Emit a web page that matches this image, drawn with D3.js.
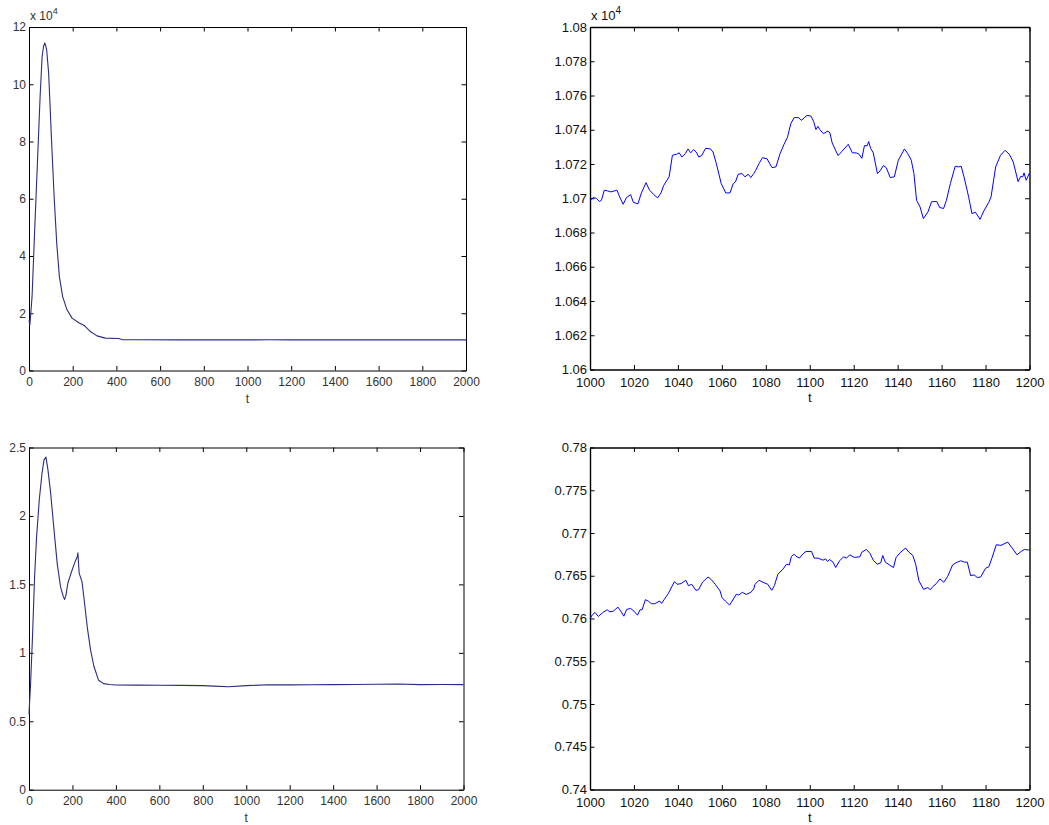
<!DOCTYPE html>
<html>
<head>
<meta charset="utf-8">
<script src="https://d3js.org/d3.v7.min.js"></script>
<style>
body { margin: 0; background: #fff; }
svg { display: block; }
text { font-family: "Liberation Sans", Arial, sans-serif; }
</style>
</head>
<body>
<svg id="chart" width="1049" height="825"></svg>
<script>
// top left: whole run, values in units of 1e4
const tlT = [0, 4, 14, 26, 38.5, 50.8, 60, 66, 72, 76, 81, 90, 102.5, 115, 127, 139, 154, 174, 197, 228, 255, 281, 311, 349, 410, 425, 500, 700, 1000, 1100, 1200, 1500, 1800, 2000];
const tlV = [1.75, 1.59, 2.58, 4.9, 7.24, 9.56, 10.96, 11.3, 11.44, 11.36, 11.19, 10.38, 8.16, 6.07, 4.44, 3.28, 2.58, 2.12, 1.83, 1.67, 1.56, 1.36, 1.21, 1.13, 1.12, 1.08, 1.072, 1.070, 1.070, 1.074, 1.071, 1.070, 1.070, 1.071];

// top right: zoom 1000..1200, units of 1e4
const trT = [1000, 1001.5, 1002.8, 1004.3, 1005.2, 1006.5, 1008, 1009.5, 1012.3, 1013.5, 1015.1, 1016.6, 1018.5, 1019.7, 1021.8, 1023.4, 1025.5, 1027.1, 1028.9, 1030.8,
  1032.3, 1033.5, 1036, 1037.5, 1039.4, 1040.6, 1041.8, 1043.4, 1044.6, 1045.8, 1047.1, 1048.3, 1049.5, 1050.8, 1052.6, 1054.8, 1056, 1057.5, 1059.7, 1061.8,
  1063.7, 1065.2, 1066.2, 1067.4, 1069.2, 1070.5, 1072, 1073.2, 1074.5, 1075.4, 1076.9, 1078.5, 1080.6, 1082.8, 1084.6, 1086.5, 1088.3, 1089.8, 1091.4, 1092.9,
  1094.8, 1096.3, 1097.8, 1098.8, 1100.6, 1101.8, 1102.8, 1103.7, 1104.6, 1106.2, 1108.3, 1109.2, 1110.2, 1112.9, 1114.8, 1117.5, 1119.4, 1121.2, 1122.5, 1123.7,
  1124.9, 1126.2, 1126.8, 1127.7, 1128.9, 1130.8, 1132, 1133.5, 1134.8, 1136.6, 1138.5, 1140.3, 1143.1, 1144.6, 1146.2, 1147.4, 1148.6, 1150.2, 1151.7, 1153.8,
  1155.4, 1156.6, 1157.8, 1159.1, 1160.9, 1162.2, 1164, 1166.2, 1167.7, 1168.9, 1170.2, 1172.3, 1173.8, 1175.4, 1177.5, 1179.4, 1181.5, 1182.5, 1184.6, 1186.8,
  1188.9, 1190.8, 1192.6, 1194.8, 1196, 1196.9, 1197.5, 1198.5, 1200];
const trV = [1.06988, 1.07004, 1.07000, 1.06981, 1.06988, 1.07047, 1.07043, 1.07037, 1.07047, 1.07008, 1.06965, 1.07004, 1.07021, 1.06977, 1.06967, 1.07031, 1.07091, 1.07047, 1.07023, 1.07002,
  1.07031, 1.07074, 1.07125, 1.07251, 1.07257, 1.07265, 1.07241, 1.07261, 1.07288, 1.07265, 1.07284, 1.07270, 1.07241, 1.07249, 1.07292, 1.07288, 1.07270, 1.07202, 1.07086, 1.07031,
  1.07031, 1.07086, 1.07095, 1.07140, 1.07144, 1.07125, 1.07140, 1.07121, 1.07144, 1.07163, 1.07202, 1.07237, 1.07230, 1.07179, 1.07183, 1.07261, 1.07315, 1.07354, 1.07436, 1.07471,
  1.07471, 1.07455, 1.07475, 1.07484, 1.07479, 1.07447, 1.07401, 1.07420, 1.07401, 1.07377, 1.07393, 1.07381, 1.07323, 1.07249, 1.07276, 1.07315, 1.07265, 1.07265, 1.07257, 1.07233,
  1.07307, 1.07307, 1.07331, 1.07292, 1.07265, 1.07144, 1.07160, 1.07191, 1.07179, 1.07121, 1.07125, 1.07222, 1.07288, 1.07261, 1.07222, 1.07144, 1.06988, 1.06949, 1.06881, 1.06920,
  1.06979, 1.06981, 1.06981, 1.06946, 1.06940, 1.06988, 1.07086, 1.07187, 1.07183, 1.07187, 1.07125, 1.07008, 1.06911, 1.06918, 1.06877, 1.06930, 1.06977, 1.07008, 1.07183, 1.07251,
  1.07280, 1.07257, 1.07212, 1.07097, 1.07128, 1.07125, 1.07148, 1.07105, 1.07148];

// bottom left: whole run
const blT = [0, 1.5, 7.5, 16.6, 25.8, 35, 47.4, 59.8, 69, 78, 87, 99.5, 115, 130, 145.5, 158, 164, 170, 179, 191, 204, 213, 222, 225, 231, 244, 256, 268, 283.5, 299, 320, 343, 370, 400, 500, 600, 700, 800, 850, 920, 1000, 1100, 1200, 1300, 1400, 1500, 1600, 1700, 1800, 1900, 2000];
const blV = [0.55, 0.6, 0.78, 1.14, 1.56, 1.85, 2.12, 2.31, 2.41, 2.43, 2.34, 2.17, 1.90, 1.65, 1.48, 1.41, 1.39, 1.42, 1.51, 1.57, 1.63, 1.67, 1.70, 1.73, 1.58, 1.52, 1.36, 1.19, 1.02, 0.90, 0.80, 0.775, 0.768, 0.765, 0.764, 0.763, 0.762, 0.760, 0.757, 0.752, 0.760, 0.767, 0.766, 0.767, 0.768, 0.769, 0.770, 0.772, 0.768, 0.769, 0.768];

// bottom right: zoom 1000..1200
const brT = [1000, 1001.2, 1002.3, 1003.8, 1005.7, 1007.8, 1009, 1010.6, 1012.7, 1014.2, 1015.4, 1016.7, 1018.5, 1020, 1021.6, 1022.8, 1023.7, 1025.2, 1026.5, 1028,
  1029.5, 1031.7, 1032.6, 1033.8, 1035.6, 1038.4, 1039.6, 1041.4, 1043.6, 1044.8, 1046.3, 1048.2, 1049.4, 1051.2, 1053.7, 1055.2, 1057, 1059.2, 1060.1, 1061.6,
  1063.5, 1064.7, 1066.5, 1067.7, 1069.3, 1071.1, 1073.2, 1074.5, 1075.1, 1076.9, 1078.7, 1080.9, 1082.7, 1083.9, 1085.5, 1087.9, 1089.4, 1090.7, 1091.6, 1092.8,
  1093.7, 1095.3, 1096.8, 1098.3, 1100.8, 1102, 1103.8, 1106, 1107.2, 1108.1, 1109, 1110.6, 1111.8, 1113.6, 1115.4, 1116.7, 1118.2, 1120.3, 1122.8, 1123.7,
  1125.8, 1127.4, 1128.9, 1130.7, 1132.3, 1133.2, 1134.4, 1136.2, 1138.1, 1139.3, 1141.1, 1143.6, 1145.1, 1146.9, 1148.2, 1149.7, 1151.8, 1153.7, 1154.9, 1156.1,
  1157.6, 1159.2, 1161, 1162.8, 1165, 1167.1, 1168.7, 1170.5, 1171.7, 1173.2, 1174.8, 1176.3, 1177.8, 1180, 1181.5, 1183, 1184.9, 1187, 1190.1, 1191.9,
  1194.3, 1196.2, 1197.7, 1200];
const brV = [0.76000, 0.76047, 0.76071, 0.76024, 0.76067, 0.76102, 0.76078, 0.76086, 0.76133, 0.76078, 0.76027, 0.76106, 0.76118, 0.76086, 0.76039, 0.76102, 0.76102, 0.76220, 0.76204, 0.76173,
  0.76173, 0.76204, 0.76176, 0.76224, 0.76290, 0.76431, 0.76400, 0.76408, 0.76447, 0.76384, 0.76400, 0.76329, 0.76337, 0.76424, 0.76486, 0.76455, 0.76400, 0.76322, 0.76243, 0.76204,
  0.76157, 0.76204, 0.76282, 0.76275, 0.76306, 0.76282, 0.76306, 0.76345, 0.76400, 0.76447, 0.76424, 0.76400, 0.76329, 0.76384, 0.76518, 0.76580, 0.76635, 0.76627, 0.76722, 0.76753,
  0.76729, 0.76706, 0.76753, 0.76784, 0.76784, 0.76706, 0.76706, 0.76682, 0.76698, 0.76667, 0.76690, 0.76659, 0.76596, 0.76675, 0.76722, 0.76706, 0.76745, 0.76714, 0.76722, 0.76776,
  0.76808, 0.76761, 0.76682, 0.76635, 0.76651, 0.76737, 0.76659, 0.76627, 0.76596, 0.76714, 0.76769, 0.76824, 0.76776, 0.76737, 0.76635, 0.76439, 0.76341, 0.76361, 0.76337, 0.76376,
  0.76408, 0.76463, 0.76424, 0.76494, 0.76627, 0.76659, 0.76675, 0.76659, 0.76659, 0.76502, 0.76510, 0.76478, 0.76486, 0.76588, 0.76604, 0.76714, 0.76863, 0.76855, 0.76894, 0.76831,
  0.76745, 0.76784, 0.76808, 0.76800];

// tick values
const xTicksFull = d3.range(0, 2001, 200);
const xTicksZoom = d3.range(0, 11).map(i => 1000 + i * 20);
const yTicksTL = d3.range(0, 13, 2);
const yTicksTR = d3.range(0, 11).map(i => 1.06 + i * 0.002);
const yTicksBL = d3.range(0, 6).map(i => i * 0.5);
const yTicksBR = d3.range(0, 9).map(i => 0.74 + i * 0.005);

const svg = d3.select('#chart');

const panels = [
  { t: tlT, v: tlV, box: [29, 27, 466, 370.5], xd: [0, 2000], yd: [0, 12], xt: xTicksFull, yt: yTicksTL,
    color: '#2c2c82', width: 1.1, font: 12, txt: '#333', frame: 1, pad: 6.5, exp: true },
  { t: trT, v: trV, box: [590, 27, 1029.5, 369.5], xd: [1000, 1200], yd: [1.06, 1.08], xt: xTicksZoom, yt: yTicksTR,
    color: '#0000ff', width: 1, font: 13, txt: '#111', frame: 1.4, pad: 8.5, exp: true },
  { t: blT, v: blV, box: [29, 447.5, 463.5, 789.7], xd: [0, 2000], yd: [0, 2.5], xt: xTicksFull, yt: yTicksBL,
    color: '#2c2c82', width: 1.1, font: 12, txt: '#333', frame: 1, pad: 6.5, exp: false },
  { t: brT, v: brV, box: [590, 447.5, 1029.5, 789.5], xd: [1000, 1200], yd: [0.74, 0.78], xt: xTicksZoom, yt: yTicksBR,
    color: '#0000ff', width: 1, font: 13, txt: '#111', frame: 1.4, pad: 8.5, exp: false }
];

const fmt = d => String(+d.toFixed(3));

const drawPanel = p => {
  const [x0, y0, x1, y1] = p.box;
  const x = d3.scaleLinear().domain(p.xd).range([x0, x1]);
  const y = d3.scaleLinear().domain(p.yd).range([y1, y0]);
  const g = svg.append('g');
  const tick = 4.5;

  const styleAxis = sel => {
    sel.selectAll('path').attr('stroke', '#000').attr('stroke-width', p.frame);
    sel.selectAll('line').attr('stroke', '#000').attr('stroke-width', 1);
    sel.selectAll('text').attr('fill', p.txt).style('font-size', p.font + 'px')
      .style('font-family', '"Liberation Sans", Arial, sans-serif');
  };

  g.append('g').attr('transform', `translate(0,${y1})`)
    .call(d3.axisBottom(x).tickValues(p.xt).tickFormat(d => String(d)).tickSizeInner(-tick).tickSizeOuter(0).tickPadding(p.pad))
    .call(styleAxis);
  g.append('g').attr('transform', `translate(0,${y0})`)
    .call(d3.axisTop(x).tickValues(p.xt).tickFormat('').tickSizeInner(-tick).tickSizeOuter(0))
    .call(styleAxis);
  g.append('g').attr('transform', `translate(${x0},0)`)
    .call(d3.axisLeft(y).tickValues(p.yt).tickFormat(fmt).tickSizeInner(-tick).tickSizeOuter(0).tickPadding(3))
    .call(styleAxis);
  g.append('g').attr('transform', `translate(${x1},0)`)
    .call(d3.axisRight(y).tickValues(p.yt).tickFormat('').tickSizeInner(-tick).tickSizeOuter(0))
    .call(styleAxis);
  g.selectAll('.domain').attr('fill', 'none');

  const line = d3.line().x(d => x(d[0])).y(d => y(d[1]));
  g.append('path')
    .datum(p.t.map((t, i) => [t, p.v[i]]))
    .attr('fill', 'none')
    .attr('stroke', p.color)
    .attr('stroke-width', p.width)
    .attr('stroke-linejoin', 'round')
    .attr('d', line);

  g.append('text')
    .attr('x', (x0 + x1) / 2)
    .attr('y', y1 + 32)
    .attr('text-anchor', 'middle')
    .attr('fill', p.txt)
    .style('font-size', p.font + 'px')
    .text('t');

  if (p.exp) {
    const e = g.append('text')
      .attr('x', x0 + 1)
      .attr('y', y0 - 7)
      .attr('fill', p.txt)
      .style('font-size', p.font + 'px')
      .text('x 10');
    e.append('tspan')
      .attr('dy', -6)
      .style('font-size', (p.font - 3) + 'px')
      .text('4');
  }
};

panels.forEach(drawPanel);
</script>
</body>
</html>
